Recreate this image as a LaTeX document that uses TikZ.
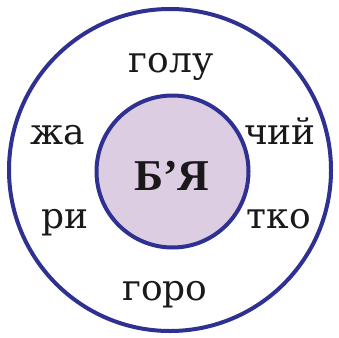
\documentclass[tikz,border=0pt]{standalone}
\usepackage{fontspec}
\setmainfont{DejaVu Serif}
\newfontfamily\corefont{Liberation Serif}
\definecolor{ringblue}{HTML}{2E3192}
\definecolor{corefill}{HTML}{DDCDE2}
\begin{document}
\begin{tikzpicture}[
	x=1pt, y=-1pt,
	ring/.style={ circle, draw=ringblue, line width=4pt, inner sep=0pt },
	part/.style={ anchor=base, inner sep=0pt, font=\fontsize{36}{42}\selectfont, text=black!90 },
]
\useasboundingbox (0,0) rectangle (339,337);

\node at (170,170) (outer) [ring, minimum size=322pt] {};
\node at (172.5,171.5) (core) [ring, fill=corefill, minimum size=152pt] {};
\node at (172,190) (word) [part, font=\fontsize{44}{50}\corefont\bfseries] {Б’Я};

\node at (171,72) (p1) [part] {голу};
\node at (58,144) (p2) [part] {жа};
\node at (280,144) (p3) [part] {чий};
\node at (65,228) (p4) [part] {ри};
\node at (279,228) (p5) [part] {тко};
\node at (165,300) (p6) [part] {горо};

\end{tikzpicture}
\end{document}
